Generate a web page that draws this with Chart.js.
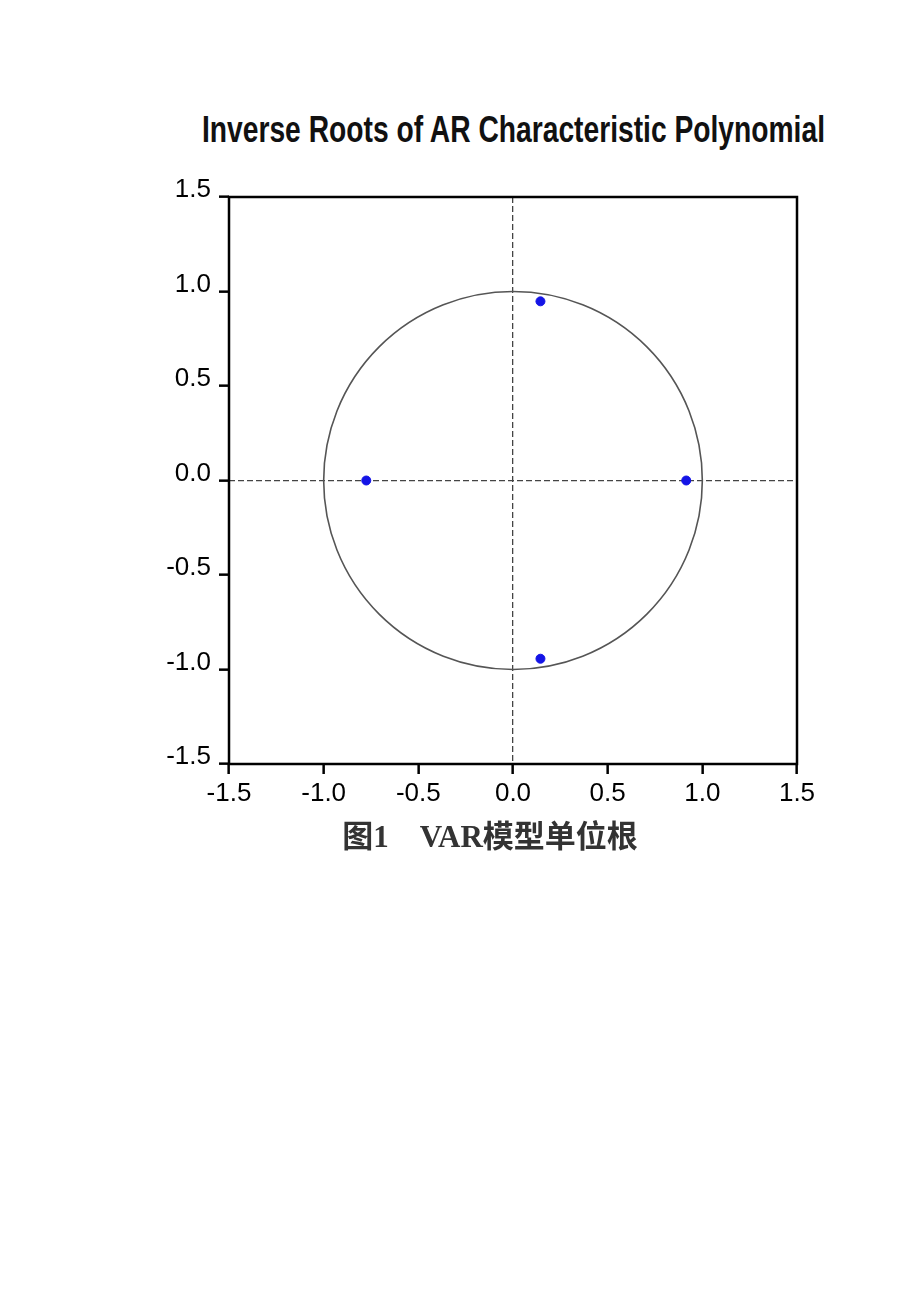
<!DOCTYPE html>
<html>
<head>
<meta charset="utf-8">
<script src="https://cdn.jsdelivr.net/npm/chart.js@4.4.2/dist/chart.umd.min.js"></script>
<style>
  html, body { margin: 0; padding: 0; background: #fff; }
  body { width: 920px; height: 1302px; position: relative; overflow: hidden; }
  #chart-box { position: absolute; left: 0; top: 0; width: 920px; height: 900px; }
  #title {
    position: absolute; left: 53px; top: 109px; width: 920px; text-align: center;
    font-family: "Liberation Sans", Arial, sans-serif; font-weight: bold; font-size: 37px;
    color: #111; white-space: nowrap;
  }
  #title span { display: inline-block; transform-origin: center; }
  #caption {
    position: absolute; left: 0; top: 811px; width: 980px; text-align: center;
    font-family: "Liberation Serif", "Noto Sans CJK SC", serif; font-weight: bold; font-size: 31px;
    color: #333; white-space: pre;
  }
</style>
</head>
<body>
<div id="title"><span id="title-text">Inverse Roots of AR Characteristic Polynomial</span></div>
<div id="chart-box"><canvas id="roots-chart"></canvas></div>
<div id="caption">图1　VAR模型单位根</div>
<script>
// Racines inverses (partie réelle / partie imaginaire)
const rootsReal = [0.145, 0.145, -0.775, 0.915];
const rootsImag = [0.948, -0.943, 0.0, 0.0];
const axisTicks = [-1.5, -1.0, -0.5, 0.0, 0.5, 1.0, 1.5];

// Titre un peu condensé comme dans l'original
const titleSpan = document.getElementById('title-text');
titleSpan.style.transform = 'scaleX(' + (623 / titleSpan.offsetWidth) + ')';

const points = rootsReal.map((x, i) => ({ x, y: rootsImag[i] }));

// Cercle unité + cadre autour de la zone du graphique
const framePlugin = {
    id: 'frame',
    beforeDatasetsDraw(chart) {
        const { ctx, chartArea, scales } = chart;
        const cx = scales.x.getPixelForValue(0);
        const cy = scales.y.getPixelForValue(0);
        const rx = scales.x.getPixelForValue(1) - cx;
        const ry = cy - scales.y.getPixelForValue(1);
        ctx.save();
        ctx.strokeStyle = '#555';
        ctx.lineWidth = 1.6;
        ctx.beginPath();
        ctx.ellipse(cx, cy, rx, ry, 0, 0, Math.PI * 2);
        ctx.stroke();
        ctx.strokeStyle = '#000';
        ctx.lineWidth = 2.5;
        ctx.strokeRect(chartArea.left, chartArea.top, chartArea.right - chartArea.left, chartArea.bottom - chartArea.top);
        ctx.restore();
    }
};

const zeroGrid = (c) => (c.tick && c.tick.value === 0 ? '#444' : 'rgba(0,0,0,0)');
const tickFont = { family: '"Liberation Sans", Arial, sans-serif', size: 26 };

new Chart(document.getElementById('roots-chart').getContext('2d'), {
    type: 'scatter',
    data: {
        datasets: [{
            label: 'Roots',
            data: points,
            backgroundColor: '#1414e6',
            borderColor: '#1414e6',
            pointRadius: 4.5,
            pointHoverRadius: 4.5
        }]
    },
    options: {
        responsive: true,
        maintainAspectRatio: false,
        animation: false,
        layout: { padding: { top: 197, right: 123, bottom: 0, left: 0 } },
        plugins: { legend: { display: false }, tooltip: { enabled: false } },
        scales: {
            x: {
                type: 'linear', min: -1.5, max: 1.5,
                afterBuildTicks: (s) => { s.ticks = axisTicks.map(v => ({ value: v })); },
                afterFit: (s) => { s.height = 136; },
                border: { display: false, dash: [6, 3] },
                grid: { color: zeroGrid, lineWidth: 1.3, tickColor: '#000', tickWidth: 2.5, tickLength: 10, tickBorderDash: [] },
                ticks: { color: '#000', font: tickFont, padding: 4, callback: (v) => v.toFixed(1), maxRotation: 0 }
            },
            y: {
                type: 'linear', min: -1.5, max: 1.5,
                afterBuildTicks: (s) => { s.ticks = axisTicks.map(v => ({ value: v })); },
                afterFit: (s) => { s.width = 229; },
                border: { display: false, dash: [6, 3] },
                grid: { color: zeroGrid, lineWidth: 1.3, tickColor: '#000', tickWidth: 2.5, tickLength: 10, tickBorderDash: [] },
                ticks: { color: '#000', font: tickFont, padding: 8, labelOffset: -7, callback: (v) => v.toFixed(1) }
            }
        }
    },
    plugins: [framePlugin]
});
</script>
</body>
</html>
